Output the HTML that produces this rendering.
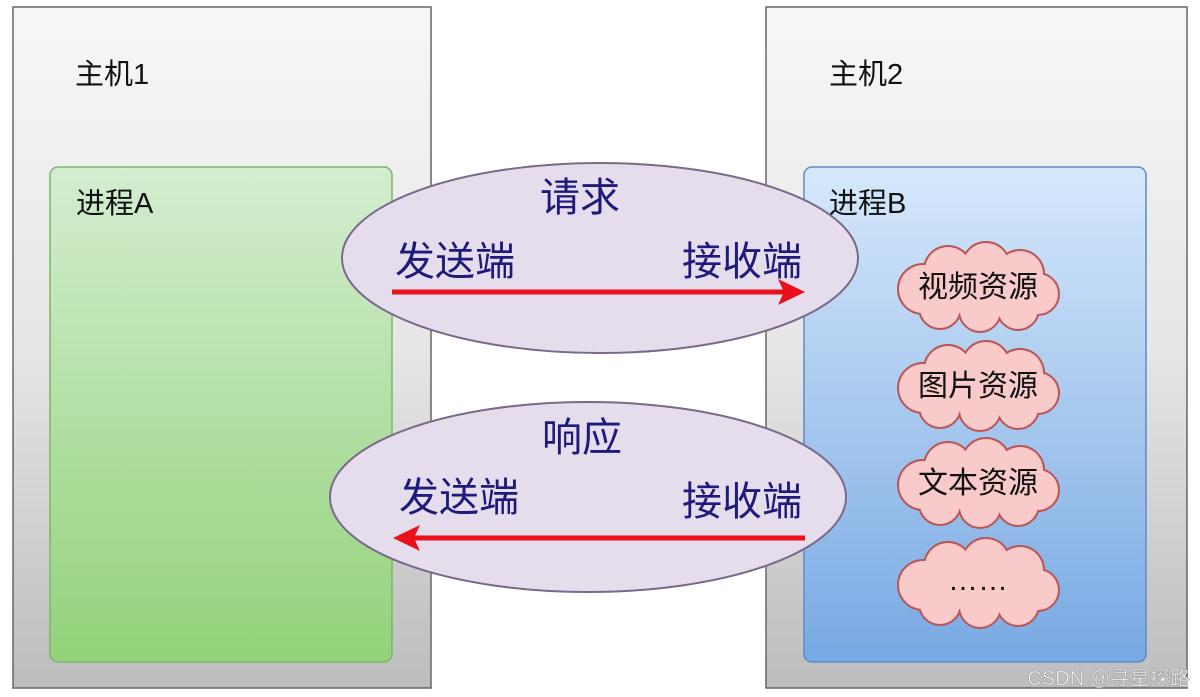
<!DOCTYPE html>
<html><head><meta charset="utf-8"><style>
html,body{margin:0;padding:0;background:#fff;width:1200px;height:697px;overflow:hidden}
text{font-family:"Liberation Sans","Noto Sans CJK SC",sans-serif}
</style></head><body>
<svg width="1200" height="697" viewBox="0 0 1200 697" xmlns="http://www.w3.org/2000/svg">
<defs>
<linearGradient id="gh" x1="0" y1="0" x2="0" y2="1"><stop offset="0" stop-color="#f7f7f7"/><stop offset="0.5" stop-color="#e6e6e6"/><stop offset="1" stop-color="#bdbdbd"/></linearGradient>
<linearGradient id="ga" x1="0" y1="0" x2="0" y2="1"><stop offset="0" stop-color="#d3edd0"/><stop offset="1" stop-color="#93d27a"/></linearGradient>
<linearGradient id="gb" x1="0" y1="0" x2="0" y2="1"><stop offset="0" stop-color="#d6e8fb"/><stop offset="1" stop-color="#78a9e3"/></linearGradient>
<g id="cl">
<g fill="#b55" stroke="#b55" stroke-width="4">
<circle cx="-55" cy="3" r="24"/><circle cx="-30" cy="-16" r="23"/><circle cx="8" cy="-20" r="23"/><circle cx="42" cy="-12" r="23"/><circle cx="60" cy="8" r="20"/><circle cx="40" cy="23" r="20"/><circle cx="2" cy="25" r="20"/><circle cx="-38" cy="22" r="20"/><ellipse cx="0" cy="3" rx="60" ry="25"/>
</g>
<g fill="#f9caca">
<circle cx="-55" cy="3" r="24"/><circle cx="-30" cy="-16" r="23"/><circle cx="8" cy="-20" r="23"/><circle cx="42" cy="-12" r="23"/><circle cx="60" cy="8" r="20"/><circle cx="40" cy="23" r="20"/><circle cx="2" cy="25" r="20"/><circle cx="-38" cy="22" r="20"/><ellipse cx="0" cy="3" rx="60" ry="25"/>
</g>
</g>
</defs>
<rect x="13" y="7" width="418" height="681" fill="url(#gh)" stroke="#666" stroke-width="1.5"/>
<rect x="766" y="7" width="421" height="681" fill="url(#gh)" stroke="#666" stroke-width="1.5"/>
<rect x="50" y="167" width="342" height="495" rx="8" fill="url(#ga)" stroke="#7fb56a" stroke-width="1.5"/>
<rect x="804" y="167" width="342" height="495" rx="8" fill="url(#gb)" stroke="#5d8cc7" stroke-width="1.5"/>
<text x="75" y="84" font-size="29" fill="#111">主机1</text>
<text x="829" y="84" font-size="29" fill="#111">主机2</text>
<text x="76" y="213" font-size="29" fill="#111">进程A</text>
<text x="829" y="213" font-size="29" fill="#111">进程B</text>
<use href="#cl" x="978" y="286"/>
<use href="#cl" x="978" y="385"/>
<use href="#cl" x="978" y="482"/>
<use href="#cl" x="978" y="582"/>
<g font-size="30" fill="#111" text-anchor="middle">
<text x="978" y="297">视频资源</text>
<text x="978" y="396">图片资源</text>
<text x="978" y="493">文本资源</text>
<text x="978" y="590">……</text>
</g>
<ellipse cx="600" cy="258" rx="258" ry="95" fill="#e5dcec" stroke="#7a6a8a" stroke-width="2"/>
<ellipse cx="588" cy="497" rx="258" ry="95" fill="#e5dcec" stroke="#7a6a8a" stroke-width="2"/>
<g font-size="40" fill="#1d1a7a">
<text x="580" y="211" text-anchor="middle">请求</text>
<text x="395" y="275">发送端</text>
<text x="682" y="275">接收端</text>
<text x="582" y="451" text-anchor="middle">响应</text>
<text x="399" y="511">发送端</text>
<text x="682" y="515">接收端</text>
</g>
<line x1="392" y1="292" x2="785" y2="292" stroke="#e8101a" stroke-width="5"/>
<polygon points="805,292 778,279 784,292 778,305" fill="#e8101a"/>
<line x1="805" y1="538" x2="412" y2="538" stroke="#e8101a" stroke-width="5"/>
<polygon points="393,538 420,525 414,538 420,551" fill="#e8101a"/>
<text x="1190" y="685" font-size="20" fill="#fff" stroke="#999" stroke-width="0.6" text-anchor="end">CSDN @寻星探路</text>
</svg>
</body></html>
